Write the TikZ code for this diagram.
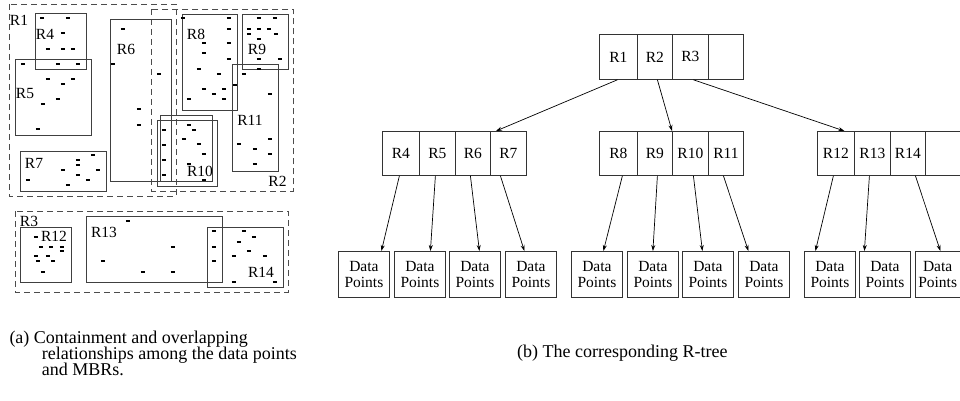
\documentclass[tikz,border=0pt]{standalone}
\usepackage{fontspec}
\setmainfont{Liberation Serif}
\usetikzlibrary{arrows.meta,calc}
\begin{document}
\begin{tikzpicture}[x=1pt,y=-1pt,
  box/.style={draw=black!75,line width=0.8pt},
  mbr/.style={draw=black!70,line width=0.8pt,dash pattern=on 6pt off 4pt},
  lbl/.style={inner sep=0pt,font=\fontsize{15.5}{17}\selectfont},
  cell/.style={draw=black!80,line width=0.8pt,minimum height=45pt,inner sep=0pt,anchor=north west,font=\fontsize{15.5}{17}\selectfont},
  leaf/.style={draw=black!80,line width=0.8pt,minimum width=51pt,minimum height=46pt,inner sep=0pt,anchor=north west,align=center,font=\fontsize{15.5}{16.5}\selectfont},
  arr/.style={-{Stealth[length=6pt,width=4pt]},line width=0.7pt},
  dp/.style={line width=1.6pt},
  captxt/.style={inner sep=0pt,anchor=base west,font=\fontsize{18}{20}\selectfont}
]
\useasboundingbox (0,0) rectangle (960,401);

% ---------- (a) MBRs ----------
\draw[mbr] (9.3,4) rectangle (176,196);
\draw[mbr] (151.7,9.3) rectangle (293.3,191);
\draw[mbr] (15,211) rectangle (288,292);

\draw[box] (35,13) rectangle (86,69);
\draw[box] (15,59) rectangle (91,135);
\draw[box] (20,151) rectangle (106,191);
\draw[box] (110.7,19) rectangle (171.7,181);
\draw[box] (160,115) rectangle (212,181);
\draw[box] (157,120) rectangle (217,186);
\draw[box] (182,14) rectangle (237,110);
\draw[box] (242,14) rectangle (288,69);
\draw[box] (232,64) rectangle (278,171);
\draw[box] (20,227) rectangle (71,282);
\draw[box] (86,216) rectangle (222,282);
\draw[box] (207,227) rectangle (283,287);

\node[lbl] (nR1) at (19,20) {R1};
\node[lbl] (nR4) at (45,34) {R4};
\node[lbl] (nR5) at (25,94) {R5};
\node[lbl] (nR6) at (126,49) {R6};
\node[lbl] (nR7) at (34,163) {R7};
\node[lbl] (nR8) at (196,34) {R8};
\node[lbl] (nR9) at (257,49) {R9};
\node[lbl] (nR11) at (250,120) {R11};
\node[lbl] (nR10) at (200,171) {R10};
\node[lbl] (nR2) at (277.5,181) {R2};
\node[lbl] (nR3) at (29,221) {R3};
\node[lbl] (nR12) at (54,236) {R12};
\node[lbl] (nR13) at (104,232) {R13};
\node[lbl] (nR14) at (261,272) {R14};

\foreach \px/\py in {42/18,68/18,63/33,48/49,63/49,73/49,
  23/64,58/64,78/64,48/79,73/79,63/84,58/99,43/104,38/129,
  123/29,113/64,159/74,139/109,139/125,
  164/130,164/145,164/160,164/175,
  93/155,78/160,78/165,63/170,98/170,78/175,88/180,28/180,68/185,
  183/18,229/18,229/29,204/43,229/43,204/53,229/59,199/69,219/74,235/85,204/89,224/89,214/94,189/99,224/99,
  259/18,275/18,249/29,259/29,269/29,249/34,276/34,259/39,259/59,280/59,259/69,
  244/74,
  270/94,270/139,239/144,255/149,270/154,255/164,
  189/125,194/130,184/139,199/144,204/154,189/164,204/180,
  36/237,41/247,51/247,62/247,62/251,36/256,48/256,38/261,53/261,43/272,
  128/221,173/247,103/261,143/272,173/272,
  214/231,214/247,214/261,
  244/231,254/237,239/242,249/251,234/256,265/256,234/282,275/282}
  \draw[dp] ({\px-2.2},\py) -- ({\px+2.2},\py);

\node[captxt] (capa1) at (9.3,343.3) {(a) Containment and overlapping};
\node[captxt] (capa2) at (41.7,359) {relationships among the data points};
\node[captxt] (capa3) at (41.7,375) {and MBRs.};

% ---------- (b) R-tree ----------
\node[cell,minimum width=38pt] (t1) at (599,34) {R1};
\node[cell,minimum width=35pt] (t2) at (637,34) {R2};
\node[cell,minimum width=36pt] (t3) at (672,34) {R3};
\node[cell,minimum width=35pt] (t4) at (708,34) {};

\node[cell,minimum width=37pt,minimum height=44pt] (a1) at (382,131) {R4};
\node[cell,minimum width=36pt,minimum height=44pt] (a2) at (419,131) {R5};
\node[cell,minimum width=35pt,minimum height=44pt] (a3) at (455,131) {R6};
\node[cell,minimum width=36pt,minimum height=44pt] (a4) at (490,131) {R7};

\node[cell,minimum width=38pt,minimum height=44pt] (b1) at (599,131) {R8};
\node[cell,minimum width=35pt,minimum height=44pt] (b2) at (637,131) {R9};
\node[cell,minimum width=36pt,minimum height=44pt] (b3) at (672,131) {R10};
\node[cell,minimum width=35pt,minimum height=44pt] (b4) at (708,131) {R11};

\node[cell,minimum width=37pt,minimum height=44pt] (c1) at (817,131) {R12};
\node[cell,minimum width=36pt,minimum height=44pt] (c2) at (854,131) {R13};
\node[cell,minimum width=35pt,minimum height=44pt] (c3) at (890,131) {R14};
\node[cell,minimum width=38pt,minimum height=44pt] (c4) at (925,131) {};

\node[leaf] (l1) at (338,251) {Data\\Points};
\node[leaf] (l2) at (394,251) {Data\\Points};
\node[leaf] (l3) at (449,251) {Data\\Points};
\node[leaf] (l4) at (505,251) {Data\\Points};
\node[leaf] (l5) at (571,251) {Data\\Points};
\node[leaf] (l6) at (627,251) {Data\\Points};
\node[leaf] (l7) at (682,251) {Data\\Points};
\node[leaf] (l8) at (738,251) {Data\\Points};
\node[leaf] (l9) at (804,251) {Data\\Points};
\node[leaf] (l10) at (859,251) {Data\\Points};
\node[leaf,minimum width=44.5pt] (l11) at (915,251) {Data\\Points};

\draw[arr] ($(t1.south)+(-1,0)$) -- ($(a4.north west)+(6,0)$);
\draw[arr] ($(t2.south)+(2.5,0)$) -- (b3.north west);
\draw[arr] ($(t3.south)+(3,0)$) -- ($(c1.north)+(8.5,0)$);

\draw[arr] ($(a1.south)+(-1.5,0)$) -- ($(l1.north)+(17.5,0)$);
\draw[arr] ($(a2.south)+(-2,0)$) -- ($(l2.north)+(10.5,0)$);
\draw[arr] ($(a3.south)+(-2.5,0)$) -- ($(l3.north)+(4.5,0)$);
\draw[arr] ($(a4.south)+(-8,0)$) -- ($(l4.north)+(-6.5,0)$);
\draw[arr] ($(b1.south)+(4,0)$) -- ($(l5.north)+(6.5,0)$);
\draw[arr] ($(b2.south)+(2.5,0)$) -- (l6.north);
\draw[arr] ($(b3.south)+(3,0)$) -- ($(l7.north)+(-5.5,0)$);
\draw[arr] ($(b4.south)+(-2.5,0)$) -- ($(l8.north)+(-15.5,0)$);
\draw[arr] ($(c1.south)+(-2.5,0)$) -- ($(l9.north)+(-14.5,0)$);
\draw[arr] ($(c2.south)+(-3,0)$) -- ($(l10.north)+(-20.5,0)$);
\draw[arr] ($(c3.south)+(7.5,0)$) -- ($(l11.north)+(2.75,0)$);

\node[captxt] (capb) at (517,357) {(b) The corresponding R-tree};
\end{tikzpicture}
\end{document}
